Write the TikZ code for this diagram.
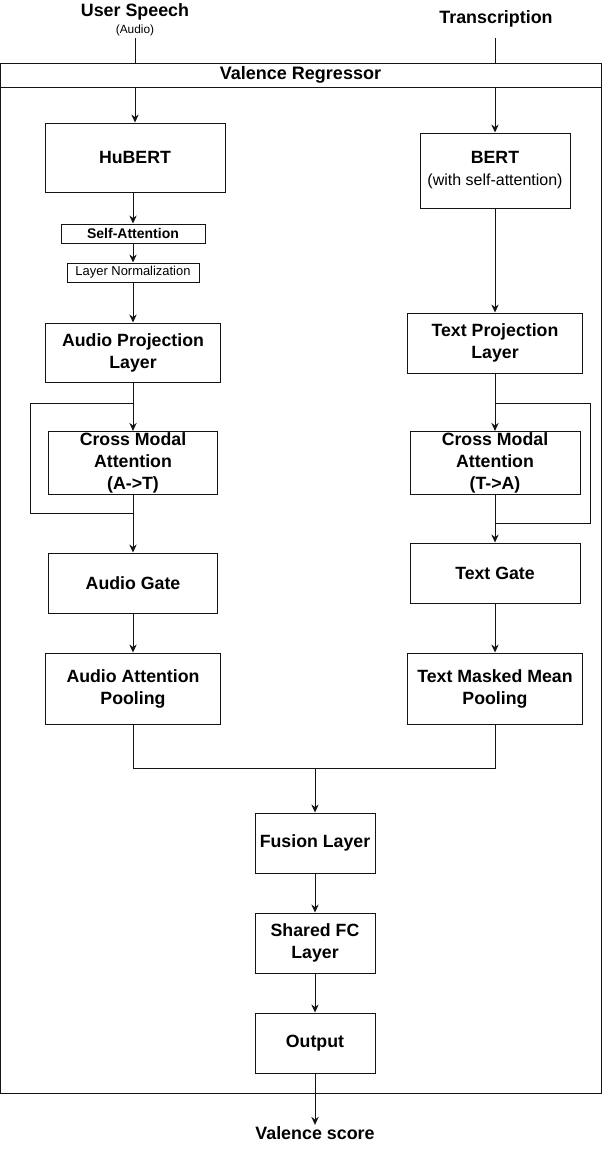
\documentclass[tikz,border=0pt]{standalone}
\usepackage{fontspec}
\setmainfont{Liberation Sans}
\usepackage{tikz}
\usetikzlibrary{arrows.meta, positioning, calc}
\definecolor{mydark}{RGB}{20,20,20}
\definecolor{mygray}{RGB}{90,90,90}
\tikzset{
  block/.style={rectangle, draw=mydark, fill=white, align=center,
    minimum width=131.25pt, minimum height=45pt, inner sep=1pt,
    font=\fontsize{13.3}{16.5}\selectfont\bfseries, line width=0.75pt},
  thinblock/.style={rectangle, draw=mydark, fill=white, align=center,
    minimum height=14.25pt, inner sep=1pt,
    font=\fontsize{9.7}{11}\selectfont, line width=0.75pt},
  lbl/.style={font=\fontsize{13.4}{15}\selectfont\bfseries, inner sep=1pt},
  arrow/.style={-{Stealth[length=6pt,width=5.5pt]}, line width=0.75pt, color=mydark},
  line/.style={line width=0.75pt, color=mydark}
}

\begin{document}
\begin{tikzpicture}[x=0.75pt, y=-0.75pt]
  \useasboundingbox (0,0) rectangle (602,1153);

  % ── Valence Regressor container ───────────────────────────────────────────
  \draw[line] (0,63) rectangle (601,1093);
  \node[rectangle, draw=mydark, line width=0.75pt, minimum width=450.75pt,
    minimum height=18pt, inner sep=0pt, font=\fontsize{13.5}{15}\selectfont\bfseries]
    (hdr) at (300.5,75) {Valence Regressor};

  % ── Inputs ────────────────────────────────────────────────────────────────
  \node[lbl] (speech) at (135,12) {User Speech};
  \node[font=\fontsize{8.9}{10}\selectfont, inner sep=1pt] (audiotag) at (135,30) {(Audio)};
  \node[lbl] (transcr) at (496,19) {Transcription};
  \coordinate (speechend) at (135,38);
  \coordinate (transend) at (495,38);

  % ── Audio branch ──────────────────────────────────────────────────────────
  \node[block, minimum width=135pt, minimum height=51.75pt] (hubert) at (135,157.5) {HuBERT};
  \node[thinblock, minimum width=108pt, font=\fontsize{10.5}{12}\selectfont\bfseries]
    (selfatt) at (133,233.5) {Self-Attention};
  \node[thinblock, minimum width=99pt] (layernorm) at (133,272.5) {Layer Normalization};
  \node[block, minimum height=44.25pt] (aproj) at (133,352.5) {Audio Projection\\Layer};
  \node[block, minimum width=126.75pt] (cmaA) at (133,463) {Cross Modal\\Attention\\(A->T)};
  \node[block, minimum width=126.75pt] (agate) at (133,583) {Audio Gate};
  \node[block, minimum height=53.25pt] (apool) at (133,688.5) {Audio Attention\\Pooling};

  % ── Text branch ───────────────────────────────────────────────────────────
  \node[block, minimum width=112.5pt, minimum height=56.25pt] (bert) at (495,170.5)
    {BERT\\{\mdseries\fontsize{12}{16.5}\selectfont (with self-attention)}};
  \node[block] (tproj) at (495,343) {Text Projection\\Layer};
  \node[block, minimum width=127.5pt] (cmaT) at (495,463) {Cross Modal\\Attention\\(T->A)};
  \node[block, minimum width=127.5pt] (tgate) at (495,573) {Text Gate};
  \node[block, minimum height=53.25pt] (tpool) at (495,688.5) {Text Masked Mean\\Pooling};

  % ── Fusion head ───────────────────────────────────────────────────────────
  \node[block, minimum width=90pt] (fusion) at (315,843) {Fusion Layer};
  \node[block, minimum width=90pt] (sharedfc) at (315,943) {Shared FC\\Layer};
  \node[block, minimum width=90pt] (output) at (315,1043) {Output};
  \node[lbl] (score) at (315,1133) {Valence score};

  % ── Connectors ────────────────────────────────────────────────────────────
  \draw[line] (speechend) -- (speechend |- hdr.north);
  \draw[arrow] (speechend |- hdr.south) -- (hubert);
  \draw[line] (transend) -- (transend |- hdr.north);
  \draw[arrow] (transend |- hdr.south) -- (bert);

  \draw[arrow] (hubert.south -| selfatt) -- (selfatt);
  \draw[arrow] (selfatt) -- (layernorm);
  \draw[arrow] (layernorm) -- (aproj);
  \draw[arrow] (aproj) -- (cmaA);
  \draw[arrow] (cmaA) -- (agate);
  \draw[arrow] (agate) -- (apool);
  % residual bypass round the audio cross attention
  \coordinate (asplit) at (133,403);
  \coordinate (ajoin) at (133,513);
  \draw[line] (asplit) -- (30,403) -- (30,513) -- (ajoin);

  \draw[arrow] (bert) -- (tproj);
  \draw[arrow] (tproj) -- (cmaT);
  \draw[arrow] (cmaT) -- (tgate);
  \draw[arrow] (tgate) -- (tpool);
  % residual bypass round the text cross attention
  \coordinate (tsplit) at (495,403);
  \coordinate (tjoin) at (495,523);
  \draw[line] (tsplit) -- (590,403) -- (590,523) -- (tjoin);

  % merge into fusion
  \coordinate (fuse) at (315,768);
  \draw[line] (apool.south) |- (fuse) -| (tpool.south);
  \draw[arrow] (fuse) -- (fusion);
  \draw[arrow] (fusion) -- (sharedfc);
  \draw[arrow] (sharedfc) -- (output);
  \draw[arrow] (output) -- (score);
\end{tikzpicture}
\end{document}
